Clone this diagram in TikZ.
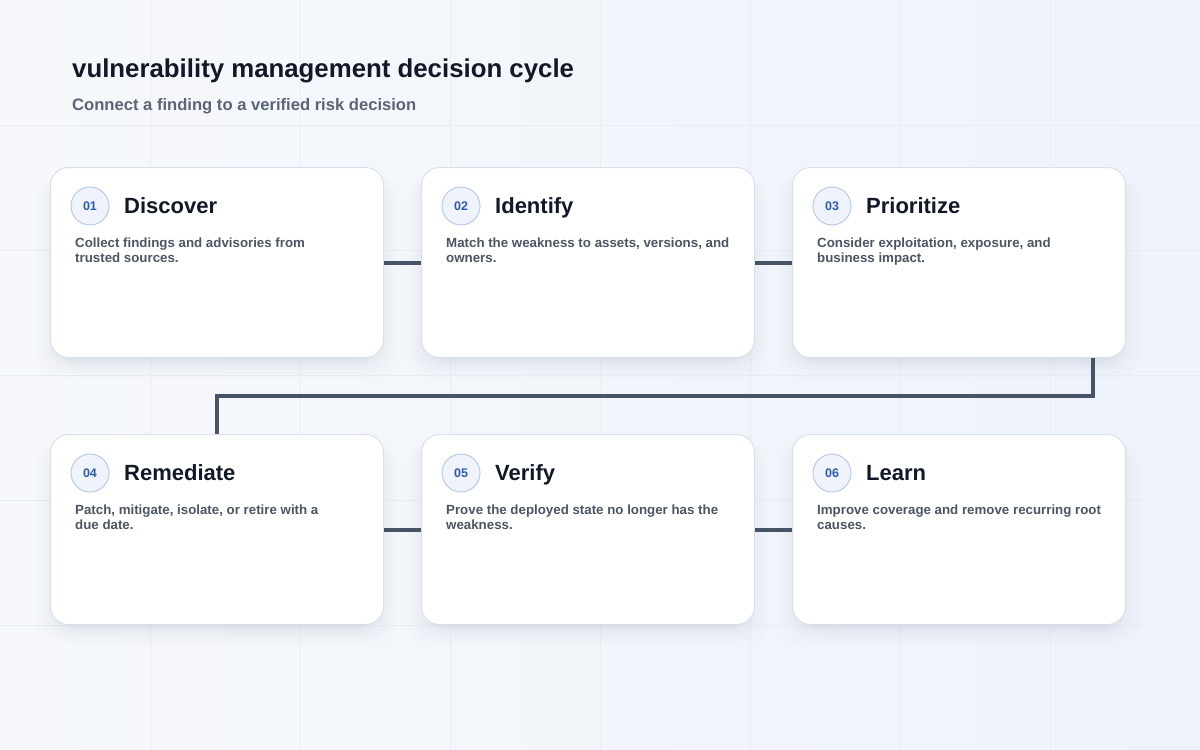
\documentclass[tikz,border=0pt]{standalone}
\usepackage{fontspec}
\setmainfont{Liberation Sans}
\usetikzlibrary{positioning,calc}
\definecolor{bgA}{HTML}{F6F8FB}
\definecolor{bgB}{HTML}{EEF3FB}
\definecolor{gridc}{HTML}{E9EDF3}
\definecolor{cardborder}{HTML}{D9E0EA}
\definecolor{shadowc}{HTML}{A9B4C7}
\definecolor{linec}{HTML}{475467}
\definecolor{titlec}{HTML}{111827}
\definecolor{subc}{HTML}{5B6475}
\definecolor{descc}{HTML}{4B5563}
\definecolor{numc}{HTML}{2F5BA8}
\definecolor{circfill}{HTML}{EEF3FC}
\definecolor{circborder}{HTML}{B9CAE8}
\tikzset{
  x=1pt, y=-1pt,
  card/.style={draw=cardborder, line width=1pt, fill=white, rounded corners=18pt,
    minimum width=333pt, minimum height=190pt, inner sep=0pt, anchor=north west},
  numcirc/.style={circle, draw=circborder, line width=1pt, fill=circfill,
    minimum size=38pt, inner sep=0pt, text=numc, font=\bfseries\fontsize{12.5}{12.5}\selectfont},
  cardtitle/.style={anchor=base west, inner sep=0pt, text=titlec, font=\bfseries\fontsize{22}{22}\selectfont},
  carddesc/.style={anchor=north west, inner sep=0pt, text=descc, align=left,
    font=\bfseries\fontsize{13.3}{15}\selectfont},
  conn/.style={draw=linec, line width=4pt},
}
\newcommand{\mycard}[6]{%
  % #1 name, #2 x, #3 y, #4 number, #5 title, #6 description
  \foreach \k/\op in {20/0.025,15/0.035,11/0.045,7/0.055,4/0.065,2/0.07}{
    \fill[shadowc, opacity=\op, rounded corners=24pt] (#2-\k+6,#3+8) rectangle (#2+333+\k-6,#3+190+\k+2);
  }
  \node[card] (#1) at (#2,#3) {};
  \node[numcirc] (#1n) at (#2+40,#3+39) {#4};
  \node[cardtitle] (#1t) at (#2+74,#3+46) {#5};
  \node[carddesc] (#1d) at (#2+25,#3+71) {#6};
}
\begin{document}
\begin{tikzpicture}
\useasboundingbox (0,0) rectangle (1200,750);
\shade[left color=bgA, right color=bgB] (0,0) rectangle (1200,750);
\foreach \gx in {150,300,...,1050} \draw[gridc, line width=1pt] (\gx,0) -- (\gx,750);
\foreach \gy in {125,250,...,625} \draw[gridc, line width=1pt] (0,\gy) -- (1200,\gy);

\node[anchor=base west, inner sep=0pt, text=titlec, font=\bfseries\fontsize{25.8}{26}\selectfont] (title) at (72,77) {vulnerability management decision cycle};
\node[anchor=base west, inner sep=0pt, text=subc, font=\bfseries\fontsize{16.6}{17}\selectfont] (subtitle) at (72,110) {Connect a finding to a verified risk decision};

\mycard{c1}{50}{167}{01}{Discover}{Collect findings and advisories from\\trusted sources.}
\mycard{c2}{421}{167}{02}{Identify}{Match the weakness to assets, versions, and\\owners.}
\mycard{c3}{792}{167}{03}{Prioritize}{Consider exploitation, exposure, and\\business impact.}
\mycard{c4}{50}{434}{04}{Remediate}{Patch, mitigate, isolate, or retire with a\\due date.}
\mycard{c5}{421}{434}{05}{Verify}{Prove the deployed state no longer has the\\weakness.}
\mycard{c6}{792}{434}{06}{Learn}{Improve coverage and remove recurring root\\causes.}

\draw[conn] (c1.east) -- (c2.west);
\draw[conn] (c2.east) -- (c3.west);
\coordinate (turn) at ($(c3.south east)+(-33,38)$);
\draw[conn, line join=miter] (c3.south east -| turn) -- (turn) -| (c4.north);
\draw[conn] (c4.east) -- (c5.west);
\draw[conn] (c5.east) -- (c6.west);
\end{tikzpicture}
\end{document}
